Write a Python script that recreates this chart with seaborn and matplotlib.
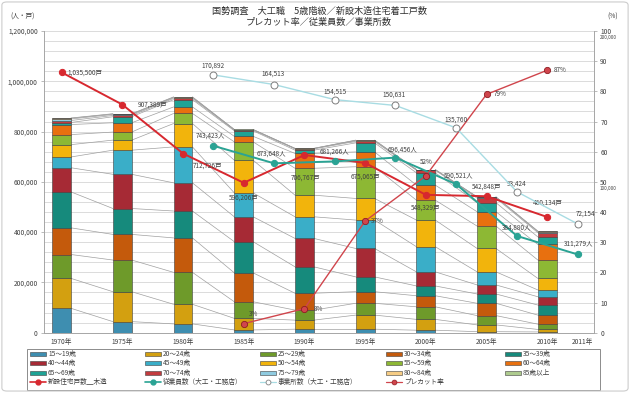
import numpy as np
import pandas as pd
import matplotlib
matplotlib.use('Agg')
import matplotlib.pyplot as plt
import seaborn as sns
from matplotlib.patches import Patch, FancyBboxPatch, Rectangle
from matplotlib.lines import Line2D
from matplotlib.ticker import MultipleLocator, FuncFormatter

# ---- data ----
years = ['1970年', '1975年', '1980年', '1985年', '1990年', '1995年', '2000年', '2005年', '2010年']
extra_label = '2011年'

age_groups = ['15～19歳', '20～24歳', '25～29歳', '30～34歳', '35～39歳',
              '40～44歳', '45～49歳', '50～54歳', '55～59歳', '60～64歳',
              '65～69歳', '70～74歳', '75～79歳', '80～84歳', '85歳以上']

# 大工職 人数 (千人) 1970 ... 2010
age_15_19 = [97, 44, 35, 11, 14, 14, 10, 4, 3]
age_20_24 = [119, 119, 78, 46, 36, 56, 43, 27, 10]
age_25_29 = [95, 126, 127, 66, 40, 47, 50, 37, 21]
age_30_34 = [106, 102, 137, 115, 67, 46, 44, 49, 36]
age_35_39 = [143, 103, 107, 124, 105, 59, 39, 37, 40]
age_40_44 = [96, 136, 112, 99, 113, 113, 56, 36, 33]
age_45_49 = [43, 96, 143, 95, 86, 113, 100, 52, 27]
age_50_54 = [49, 40, 93, 130, 86, 86, 106, 93, 46]
age_55_59 = [40, 32, 40, 73, 107, 126, 79, 89, 73]
age_60_64 = [40, 37, 26, 22, 59, 59, 60, 57, 62]
age_65_69 = [8, 24, 29, 22, 13, 36, 49, 36, 30]
age_70_74 = [8, 5, 5, 3, 5, 6, 10, 18, 17]
age_75_79 = [6, 4, 3, 1.5, 1.5, 3, 2, 4, 4]
age_80_84 = [3, 2, 2, 0.5, 0.5, 1.5, 0.7, 1, 1.5]
age_85_up = [1, 1, 1, 0.3, 0.3, 0.5, 0.3, 0.3, 0.5]

age_values = [age_15_19, age_20_24, age_25_29, age_30_34, age_35_39,
              age_40_44, age_45_49, age_50_54, age_55_59, age_60_64,
              age_65_69, age_70_74, age_75_79, age_80_84, age_85_up]

# 新設住宅戸数_木造 (1970..2010)
housing = [1035500, 907389, 712726, 596206, 706767, 675065, 548329, 542848, 460134]
# 従業員数 / 事業所数 (大工・工務店), 7 surveys
employees = [743423, 673648, 681266, 696456, 590521, 384880, 311279]
offices = [170892, 164513, 154515, 150631, 135760, 93424, 72154]
# プレカット率 (%) 1985..2010
precut = [3, 8, 37, 52, 79, 87]

age_colors = ['#3E8EB0', '#D3A010', '#6E9A2A', '#C45A0C', '#168A7C',
              '#A62A35', '#3AAEC8', '#F2B40C', '#8DB834', '#E8700F',
              '#1FA395', '#C23B3E', '#8FCBE0', '#F6CC84', '#AECB8E']

sns.set_style('white')
plt.rcParams['font.family'] = ['Noto Sans CJK JP', 'DejaVu Sans']
plt.rcParams['axes.unicode_minus'] = False

fig = plt.figure(figsize=(6.3, 3.93), dpi=100)
ax = fig.add_axes([44 / 630, 1 - 332.7 / 393, 550 / 630, 301.7 / 393])
ax2 = ax.twinx()
ax3 = ax.twinx()

bar_w = 0.31
idx = np.arange(len(years))

# stacked bars
bottom = np.zeros(len(years))
tops = []
for name, vals, col in zip(age_groups, age_values, age_colors):
    v = np.array(vals, dtype=float) * 1000
    sns.barplot(x=idx, y=v, native_scale=True, width=bar_w, bottom=bottom,
                color=col, saturation=1, edgecolor='#404040', linewidth=0.4,
                errorbar=None, ax=ax, zorder=3)
    bottom = bottom + v
    tops.append(bottom.copy())

# series connector lines between bars
for cum in tops:
    for i in range(len(years) - 1):
        ax.plot([i + bar_w / 2, i + 1 - bar_w / 2], [cum[i], cum[i + 1]],
                color='#A0A0A0', lw=0.5, zorder=2)

# lines
emp_pos = np.arange(len(employees)) + 2.5
pre_pos = np.arange(len(precut)) + 3

sns.lineplot(x=idx, y=housing, ax=ax, color='#D7282F', linewidth=1.4,
             marker='o', markersize=4.5, markeredgecolor='#D7282F', zorder=6)
sns.lineplot(x=emp_pos, y=employees, ax=ax, color='#2AA394', linewidth=1.4,
             marker='o', markersize=4.5, markeredgecolor='#2AA394', zorder=6)
sns.lineplot(x=pre_pos, y=precut, ax=ax2, color='#D0454C', linewidth=1.0,
             marker='o', markersize=4.5, markerfacecolor='#D0454C',
             markeredgecolor='#8E1C22', markeredgewidth=0.6, zorder=6)
sns.lineplot(x=emp_pos, y=offices, ax=ax3, color='#A8DCE3', linewidth=1.0,
             marker='o', markersize=5, markerfacecolor='white',
             markeredgecolor='#7F7F7F', markeredgewidth=0.7, zorder=6)

# data labels
lab_kw = dict(fontsize=4.6, color='#404040', textcoords='offset points', va='center')
h_off = [(4, 0, 'left'), (11, 0, 'left'), (7, -9, 'left'), (0, -11, 'center'),
         (1, -16, 'center'), (0, -10, 'center'), (0, -9, 'center'), (0, 7, 'center'),
         (0, 10, 'center')]
for x, y, (dx, dy, ha) in zip(idx, housing, h_off):
    ax.annotate(f'{y:,}戸', (x, y), xytext=(dx, dy), ha=ha, zorder=7, **lab_kw)

e_off = [(-2, 7), (-2, 7), (0, 7), (5, 6), (2, 6), (0, 6), (1, 8)]
for x, y, (dx, dy) in zip(emp_pos, employees, e_off):
    ax.annotate(f'{y:,}人', (x, y), xytext=(dx, dy), ha='center', zorder=7, **lab_kw)

o_off = [(0, 7), (-1, 8), (0, 6), (-1, 8), (0, 6), (0, 6), (6, 7)]
for x, y, (dx, dy) in zip(emp_pos, offices, o_off):
    ax3.annotate(f'{y:,}', (x, y), xytext=(dx, dy), ha='center', **lab_kw)

p_off = [(4, 7, 'left'), (7, 0, 'left'), (4, 0, 'left'), (0, 10, 'center'),
         (5, 0, 'left'), (5, 0, 'left')]
for x, y, (dx, dy, ha) in zip(pre_pos, precut, p_off):
    ax2.annotate(f'{y}%', (x, y), xytext=(dx, dy), ha=ha, **lab_kw)

# axes styling
ax.set_xlim(-0.29, 8.77)
ax.set_ylim(0, 1200000)
ax2.set_ylim(0, 100)
ax3.set_ylim(0, 200000)

ax.set_xticks(list(idx) + [8.58], labels=years + [extra_label])
ax.set_xticks(idx + 0.25, minor=True)
ax.tick_params(axis='x', which='major', length=0, pad=4, labelsize=4.8, labelcolor='#404040')
ax.tick_params(axis='x', which='minor', length=2.5, width=0.5, color='#A0A0A0')

ax.yaxis.set_major_locator(MultipleLocator(200000))
ax.yaxis.set_minor_locator(MultipleLocator(40000))
ax.yaxis.set_major_formatter(FuncFormatter(lambda v, p: f'{v:,.0f}'))
ax.tick_params(axis='y', which='major', length=2.5, width=0.5, pad=2, color='#A0A0A0',
               labelsize=4.8, labelcolor='#404040')
ax.tick_params(axis='y', which='minor', length=0)
ax.grid(axis='y', which='both', color='#D6D6D6', lw=0.6, zorder=0)
ax.set_axisbelow(True)
ax.set_xlabel('')
ax.set_ylabel('')

ax2.yaxis.set_major_locator(MultipleLocator(10))
ax2.tick_params(axis='y', length=2.5, width=0.5, pad=2, color='#A0A0A0',
                labelsize=4.8, labelcolor='#404040')
ax2.set_ylabel('')

# office-count scale: small labels under the % ticks
ax3.set_yticks([])
ax3.set_ylabel('')
for v in (100000, 200000):
    ax3.annotate(f'{v:,}', (1, v), xycoords=ax3.get_yaxis_transform(),
                 xytext=(4.2, -3.2), textcoords='offset points',
                 ha='left', va='top', fontsize=3.3, color='#404040')

for a in (ax, ax2, ax3):
    a.spines['top'].set_visible(False)
    for s in ('left', 'right', 'bottom'):
        a.spines[s].set_color('#A6A6A6')
        a.spines[s].set_linewidth(0.6)
ax3.spines['right'].set_visible(False)
ax3.spines['left'].set_visible(False)
ax3.spines['bottom'].set_visible(False)

# titles
fig.text(319 / 630, 1 - 11.5 / 393, '国勢調査　大工職　5歳階級／新設木造住宅着工戸数',
         ha='center', va='center', fontsize=6.6, color='#303030')
fig.text(319 / 630, 1 - 23 / 393, 'プレカット率／従業員数／事業所数',
         ha='center', va='center', fontsize=6.6, color='#303030')
fig.text(23 / 630, 1 - 17 / 393, '(人・戸)', ha='center', va='center', fontsize=4.8, color='#404040')
fig.text(613 / 630, 1 - 17 / 393, '(%)', ha='center', va='center', fontsize=4.8, color='#404040')

# legend: one legend per column so columns sit at fixed positions
age_handles = [Patch(facecolor=c, edgecolor='#404040', lw=0.4) for c in age_colors]
line_handles = [
    Line2D([], [], color='#D7282F', lw=1.2, marker='o', ms=3.5),
    Line2D([], [], color='#2AA394', lw=1.2, marker='o', ms=3.5),
    Line2D([], [], color='#A8DCE3', lw=0.9, marker='o', ms=3.5, mfc='white', mec='#7F7F7F', mew=0.6),
    Line2D([], [], color='#D0454C', lw=0.9, marker='o', ms=3.5, mec='#8E1C22', mew=0.5),
]
line_labels = ['新設住宅戸数＿木造', '従業員数（大工・工務店）', '事業所数（大工・工務店）', 'プレカット率']
col_x = [30, 145, 260, 386, 505]
for col in range(5):
    hs = [age_handles[row * 5 + col] for row in range(3)]
    ls = [age_groups[row * 5 + col] for row in range(3)]
    if col < 4:
        hs.append(line_handles[col])
        ls.append(line_labels[col])
    leg = fig.legend(hs, ls, loc='upper left',
                     bbox_to_anchor=(col_x[col] / 630, 1 - 350 / 393),
                     fontsize=4.8, frameon=False, borderaxespad=0, borderpad=0,
                     handlelength=2.4, handleheight=0.55, handletextpad=0.3,
                     labelspacing=0.22)
    for t in leg.get_texts():
        t.set_color('#404040')

fig.patches.append(Rectangle((27 / 630, 1 - 390 / 393), 573 / 630, 41 / 393,
                             transform=fig.transFigure, fill=False,
                             ec='#8C8C8C', lw=0.7))
fig.patches.append(FancyBboxPatch((0.003, 0.005), 0.994, 0.99,
                                  boxstyle='round,pad=0,rounding_size=0.008',
                                  transform=fig.transFigure, fill=False,
                                  ec='#CCCCCC', lw=0.8))

fig.savefig('out.png', dpi=100)
